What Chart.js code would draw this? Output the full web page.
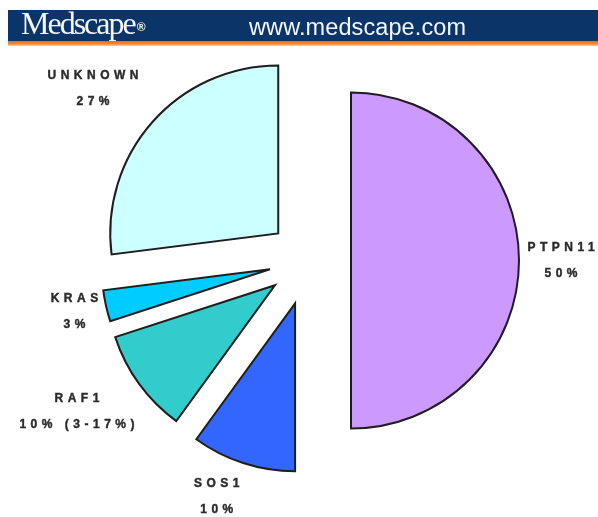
<!DOCTYPE html>
<html>
<head>
<meta charset="utf-8">
<script src="https://cdn.jsdelivr.net/npm/chart.js@4.4.1/dist/chart.umd.min.js"></script>
<style>
  html, body { margin: 0; padding: 0; background: #ffffff; }
  #wrap { position: relative; width: 598px; height: 517px; overflow: hidden; }
  #c { position: absolute; left: 0; top: 0; }
  #hdr { position: absolute; left: 8px; top: 10px; width: 590px; height: 31px; background: #0b3468; }
  #stripe { position: absolute; left: 8px; top: 41px; width: 590px; height: 5px;
            background: linear-gradient(#ff6a00, #ff8a30 60%, #ffd0a8); }
  #logo { position: absolute; left: 13px; top: -3px; font-family: "Liberation Serif", "Times New Roman", serif;
          font-size: 32px; line-height: 32px; color: #f4f6fa; letter-spacing: -2px; font-weight: normal; white-space: nowrap; }
  #logo sup { font-size: 12px; letter-spacing: 0; position: relative; top: -3px; vertical-align: baseline; margin-left: 2px;
              font-family: "Liberation Sans", Arial, sans-serif; font-weight: bold; }
  #url { position: absolute; left: 241px; top: 4px; font-family: "Liberation Sans", Arial, sans-serif;
         font-size: 23.5px; line-height: 26px; color: #f4f6fa; letter-spacing: 0.1px; white-space: nowrap; }
</style>
</head>
<body>
<div id="wrap">
  <canvas id="c" width="598" height="517"></canvas>
  <div id="hdr"><div id="logo">Medscape<sup>®</sup></div><div id="url">www.medscape.com</div></div>
  <div id="stripe"></div>
</div>
<script>
const categories = ["PTPN11", "SOS1", "RAF1", "KRAS", "UNKNOWN"];
const values = [50, 10, 10, 3, 27];
const valueLabels = ["50%", "10%", "10% (3-17%)", "3%", "27%"];
const sliceColors = ["#cc99ff", "#3366ff", "#33cccc", "#00ccff", "#ccffff"];

// Pull each slice out along its own mid angle (exploded pie) without changing its radius.
const explodePlugin = {
  id: 'explode',
  afterDatasetUpdate(chart, args, opts) {
    const meta = chart.getDatasetMeta(args.index);
    meta.data.forEach((arc, i) => {
      const mid = (arc.startAngle + arc.endAngle) / 2;
      const d = opts.amount[i] || 0;
      arc._cx = arc.x; arc._cy = arc.y;
      arc.x = arc._cx + Math.cos(mid) * d;
      arc.y = arc._cy + Math.sin(mid) * d;
    });
  }
};

const labelPlugin = {
  id: 'sliceLabels',
  afterDatasetsDraw(chart, args, opts) {
    const ctx = chart.ctx;
    const meta = chart.getDatasetMeta(0);
    ctx.save();
    ctx.fillStyle = opts.color;
    ctx.strokeStyle = opts.color;
    ctx.lineWidth = opts.weightStroke;
    ctx.font = opts.font;
    ctx.textBaseline = 'middle';
    ctx.textAlign = 'left';
    const ls = opts.letterSpacing;
    const hasLS = ('letterSpacing' in ctx);
    if (hasLS) ctx.letterSpacing = ls + 'px';
    meta.data.forEach((arc, i) => {
      const mid = (arc.startAngle + arc.endAngle) / 2 + (opts.angleAdjust[i] || 0) * Math.PI / 180;
      const d = opts.distance[i];
      const cx = arc._cx + Math.cos(mid) * d;
      const cy = arc._cy + Math.sin(mid) * d;
      const lines = [chart.data.labels[i], valueLabels[i]];
      lines.forEach((t, k) => {
        let w = ctx.measureText(t).width;
        if (hasLS) w -= ls;
        const y = cy + (k === 0 ? -opts.lineGap / 2 : opts.lineGap / 2);
        ctx.fillText(t, cx - w / 2, y);
        if (opts.weightStroke > 0) ctx.strokeText(t, cx - w / 2, y);
      });
    });
    ctx.restore();
  }
};

new Chart(document.getElementById('c'), {
  type: 'pie',
  data: {
    labels: categories,
    datasets: [{
      data: values,
      backgroundColor: sliceColors,
      borderColor: '#1e1e1e',
      borderWidth: 2,
      borderJoinStyle: 'miter'
    }]
  },
  options: {
    responsive: false,
    animation: false,
    radius: 168,
    layout: { padding: { left: 20, right: 0, top: 4, bottom: 0 } },
    plugins: {
      legend: { display: false },
      tooltip: { enabled: false },
      explode: { amount: [42, 45, 42, 40, 41] },
      sliceLabels: {
        color: '#2a2a2a',
        weightStroke: 0.4,
        font: 'bold 12px "Liberation Sans", Arial, sans-serif',
        letterSpacing: 4.5,
        lineGap: 26,
        distance: [252, 254, 277, 240, 276],
        angleAdjust: [0, 3.3, 2.9, 0.4, -2.9]
      }
    }
  },
  plugins: [explodePlugin, labelPlugin]
});
</script>
</body>
</html>
